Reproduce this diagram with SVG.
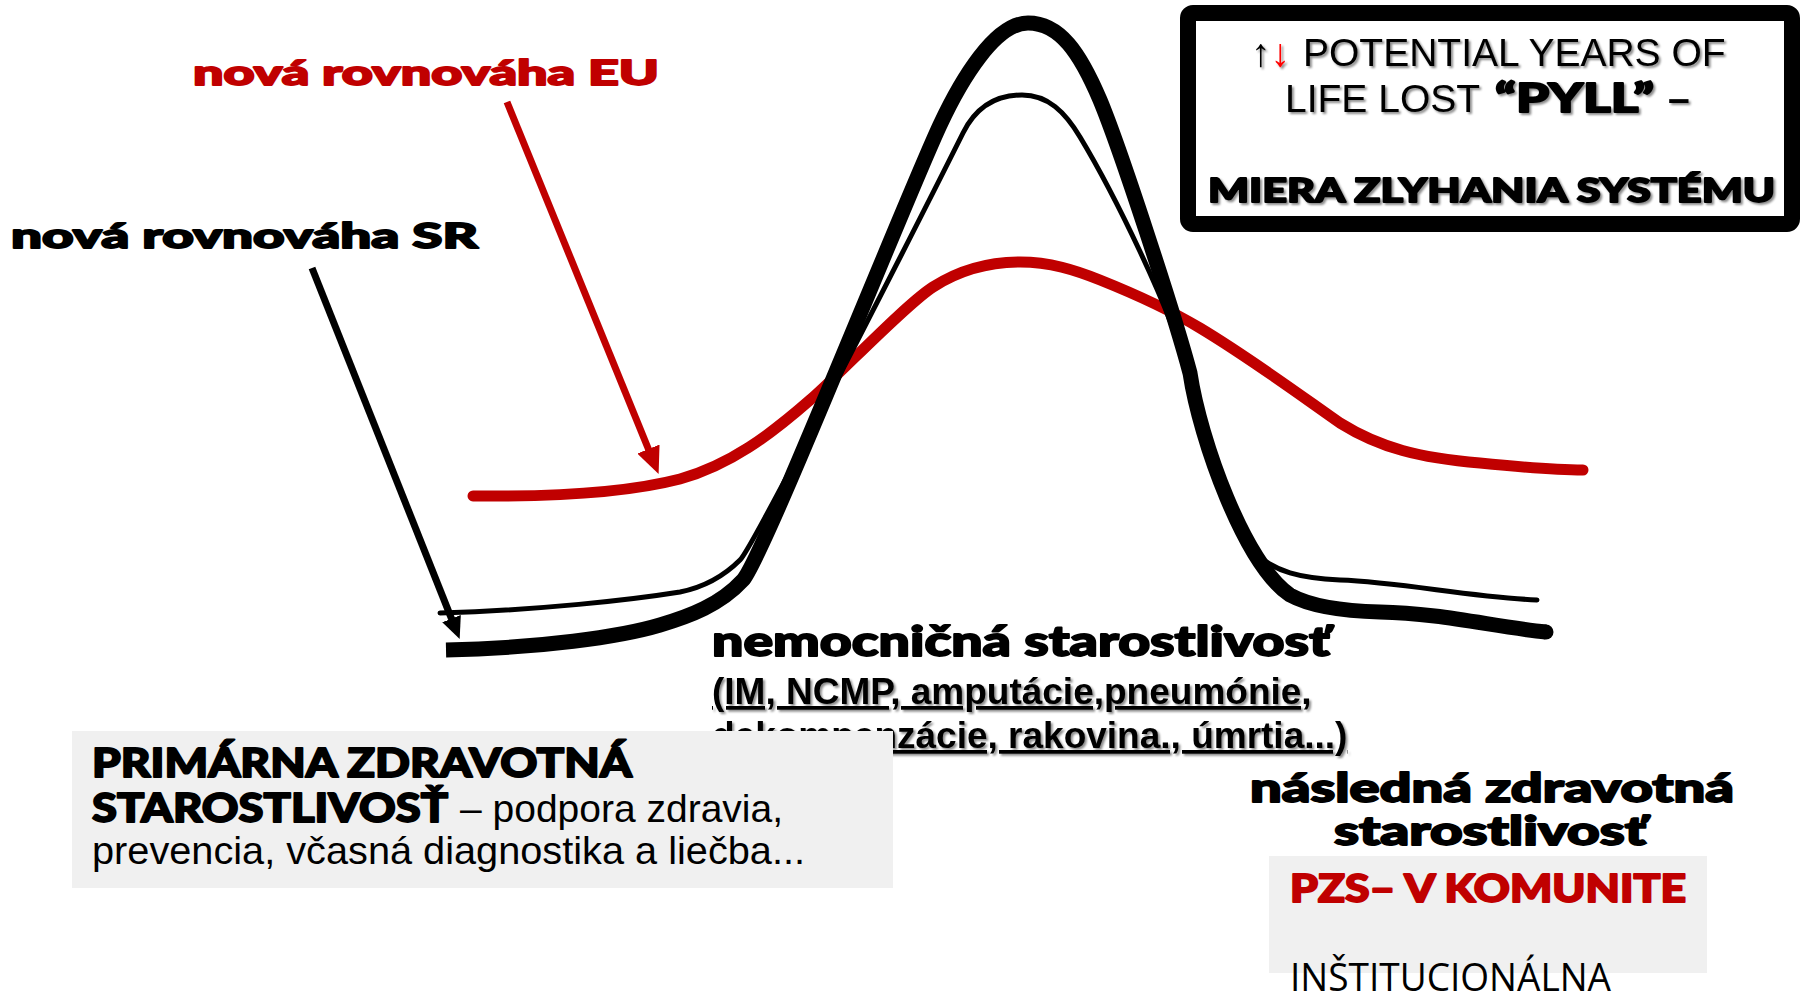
<svg xmlns="http://www.w3.org/2000/svg" width="1802" height="993" viewBox="0 0 1802 993">
<defs>
<style>
.heavy{font-family:Lato,"DejaVu Sans",sans-serif;font-weight:900;stroke-width:1.8;stroke-linejoin:round}
.arial{font-family:"Liberation Sans",Arial,sans-serif;stroke:none}
.arialb{font-family:"Liberation Sans",Arial,sans-serif;font-weight:bold;stroke:none}
.red{fill:#C00000;stroke:#C00000}
.blk{fill:#000;stroke:#000}
.sh{filter:url(#shadow)}
.gbox{fill:#F0F0F0}
.curve{fill:none}
</style>
<filter id="shadow" x="-5%" y="-30%" width="110%" height="160%">
<feDropShadow dx="2" dy="2" stdDeviation="1.2" flood-color="#000" flood-opacity="0.45"/>
</filter>
<marker id="ahRed" markerUnits="userSpaceOnUse" viewBox="0 0 27 24" markerWidth="27" markerHeight="24" refX="1" refY="12" orient="auto">
<path d="M0,0 L27,12 L0,24 Z" fill="#C00000"/>
</marker>
<marker id="ahBlack" markerUnits="userSpaceOnUse" viewBox="0 0 22 20" markerWidth="22" markerHeight="20" refX="1" refY="10" orient="auto">
<path d="M0,0 L22,10 L0,20 Z" fill="#000"/>
</marker>
</defs>
<rect x="0" y="0" width="1802" height="993" fill="#fff"/>

<g id="node-hospital-detail">
<text class="arialb sh" font-size="37" fill="#000" text-decoration="underline" x="712" y="704">(IM, NCMP, amputácie,pneumónie,</text>
<text class="arialb sh" font-size="37" fill="#000" text-decoration="underline" x="712" y="748">dekompenzácie, rakovina., úmrtia...)</text>
</g>

<g id="connectors">
<path class="curve" d="M473,496 C560,497 630,492 680,479 C730,465 770,435 810,400 C840,374 905,305 933,287 C961,269 990,262 1020,262 C1050,262 1075,270 1100,280 C1140,296 1170,310 1200,328 C1250,358 1300,395 1340,423 C1380,448 1420,458 1480,463 C1520,467 1560,470 1583,470" stroke="#C00000" stroke-width="11" stroke-linecap="round"/>
<path class="curve" d="M440,613 C540,610 630,600 680,592 C705,587 725,575 740,560 C755,545 943,173 963,133 C978,103 1000,95 1022,95 C1048,95 1065,112 1080,137 C1112,190 1172,310 1188,375 C1198,440 1225,520 1255,553 C1275,572 1300,578 1340,580 C1400,582 1470,597 1537,600" stroke="#000" stroke-width="5" stroke-linecap="round"/>
<path class="curve" d="M446,650 C540,648 620,637 660,625 C690,616 720,605 743,580 C762,560 905,200 940,125 C961,80 995,23 1028,23 C1060,23 1080,53 1100,100 C1120,148 1174,313 1190,373 C1200,440 1245,565 1290,595 C1310,606 1340,611 1380,612 C1440,613 1495,627 1546,632" stroke="#000" stroke-width="15"/>
<circle cx="1546" cy="632" r="7.5" fill="#000"/>
<line x1="507" y1="102" x2="648.8" y2="450" stroke="#C00000" stroke-width="7" marker-end="url(#ahRed)"/>
<line x1="312" y1="268" x2="451.9" y2="619.6" stroke="#000" stroke-width="7" marker-end="url(#ahBlack)"/>
</g>

<g id="node-eu">
<text class="heavy red" font-size="35" x="193" y="85" textLength="466" lengthAdjust="spacingAndGlyphs">nová rovnováha EU</text>
</g>
<g id="node-sr">
<text class="heavy blk" font-size="35" x="11" y="248" textLength="467" lengthAdjust="spacingAndGlyphs">nová rovnováha SR</text>
</g>

<g id="node-pyll">
<rect x="1188" y="13" width="604" height="211" rx="5" fill="#fff" stroke="#000" stroke-width="16"/>
<text class="arial sh" font-size="39" x="1251" y="66"><tspan fill="#000">↑</tspan><tspan fill="#FF0000">↓</tspan><tspan x="1303" fill="#000">POTENTIAL YEARS OF</tspan></text>
<text class="arial sh" font-size="39" fill="#000" x="1285" y="112">LIFE LOST <tspan class="heavy blk" x="1495" textLength="159" lengthAdjust="spacingAndGlyphs">“PYLL”</tspan><tspan class="arialb" x="1668">–</tspan></text>
<text class="heavy blk sh" font-size="33" x="1208" y="202" textLength="567" lengthAdjust="spacingAndGlyphs">MIERA ZLYHANIA SYSTÉMU</text>
</g>

<g id="node-hospital">
<text class="heavy blk" font-size="42" x="712" y="656" textLength="618" lengthAdjust="spacingAndGlyphs">nemocničná starostlivosť</text>
</g>

<g id="node-primary">
<rect class="gbox" x="72" y="731" width="821" height="157"/>
<text class="heavy blk" font-size="40" x="92" y="777" textLength="540" lengthAdjust="spacingAndGlyphs">PRIMÁRNA ZDRAVOTNÁ</text>
<text fill="#000" y="822"><tspan class="heavy blk" font-size="40" x="92" textLength="356" lengthAdjust="spacingAndGlyphs">STAROSTLIVOSŤ</tspan><tspan class="arial" font-size="39" x="460">– podpora zdravia,</tspan></text>
<text class="arial" fill="#000" font-size="39" x="92" y="864" textLength="713" lengthAdjust="spacingAndGlyphs">prevencia, včasná diagnostika a liečba...</text>
</g>

<g id="node-followup">
<text class="heavy blk" font-size="39" x="1250" y="802" textLength="484" lengthAdjust="spacingAndGlyphs">následná zdravotná</text>
<text class="heavy blk" font-size="39" x="1334" y="845" textLength="312" lengthAdjust="spacingAndGlyphs">starostlivosť</text>
</g>

<g id="node-community">
<rect class="gbox" x="1269" y="856" width="438" height="117"/>
<text class="heavy red" font-size="37" x="1290" y="902" textLength="396" lengthAdjust="spacingAndGlyphs">PZS– V KOMUNITE</text>
<text font-family="'Open Sans','Noto Sans',sans-serif" font-size="38" fill="#000" x="1290" y="991" textLength="321" lengthAdjust="spacingAndGlyphs">INŠTITUCIONÁLNA</text>
</g>
</svg>
